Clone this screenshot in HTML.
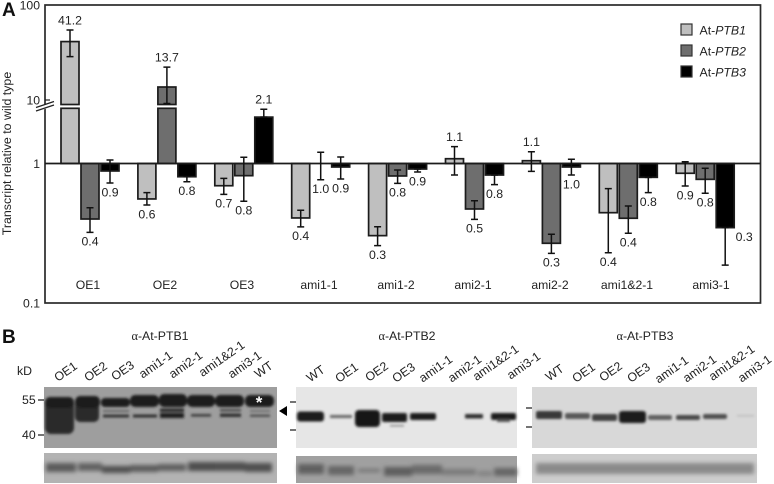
<!DOCTYPE html>
<html lang="en">
<head>
<meta charset="utf-8">
<title>PTB transcript levels and immunoblots</title>
<style>
html,body{margin:0;padding:0;background:#fff;}
svg{display:block;}
text{font-family:"Liberation Sans",sans-serif;fill:#222;}
</style>
</head>
<body>
<svg id="figure" width="774" height="484" viewBox="0 0 774 484" xmlns="http://www.w3.org/2000/svg">
  <defs>
    <filter id="b1" x="-20%" y="-50%" width="140%" height="200%"><feGaussianBlur stdDeviation="1.2"/></filter>
    <filter id="b2" x="-20%" y="-50%" width="140%" height="200%"><feGaussianBlur stdDeviation="2"/></filter>
  </defs>
  <text x="2" y="16" font-size="19" font-weight="bold" style="fill:#111">A</text>
  <g id="chart"></g>

  <g>
    <text x="2" y="343" font-size="19" font-weight="bold" style="fill:#111">B</text>
    <text x="17" y="375" font-size="12.3">kD</text>
    <text x="22" y="404" font-size="12.3">55</text>
    <text x="22" y="439" font-size="12.3">40</text>
    <path d="M38 400H44M38 435H44" stroke="#222" stroke-width="1.3"/>
    <path d="M290 402H296M290 430H296" stroke="#222" stroke-width="1.3"/>
    <path d="M526 408H532M526 427H532" stroke="#222" stroke-width="1.3"/>
    <path d="M279 411L287 406V416Z" fill="#000"/>

    <text x="160" y="340" font-size="12.3" text-anchor="middle"><tspan font-family="Liberation Serif">α</tspan>-At-PTB1</text>
    <text x="407" y="340" font-size="12.3" text-anchor="middle"><tspan font-family="Liberation Serif">α</tspan>-At-PTB2</text>
    <text x="645" y="340" font-size="12.3" text-anchor="middle"><tspan font-family="Liberation Serif">α</tspan>-At-PTB3</text>

    <g font-size="12.3" text-anchor="middle">
      <text transform="translate(68,375) rotate(-35)">OE1</text>
      <text transform="translate(98,375) rotate(-35)">OE2</text>
      <text transform="translate(125,374) rotate(-35)">OE3</text>
      <text transform="translate(158,368) rotate(-35)">ami1-1</text>
      <text transform="translate(188,368) rotate(-35)">ami2-1</text>
      <text transform="translate(224,362) rotate(-35)">ami1&amp;2-1</text>
      <text transform="translate(247,368) rotate(-35)">ami3-1</text>
      <text transform="translate(266,373) rotate(-35)">WT</text>
    </g>
    <g font-size="12.3" text-anchor="middle">
      <text transform="translate(318,377) rotate(-35)">WT</text>
      <text transform="translate(349,376) rotate(-35)">OE1</text>
      <text transform="translate(379,375) rotate(-35)">OE2</text>
      <text transform="translate(406,376) rotate(-35)">OE3</text>
      <text transform="translate(438,372) rotate(-35)">ami1-1</text>
      <text transform="translate(467,372) rotate(-35)">ami2-1</text>
      <text transform="translate(498,366) rotate(-35)">ami1&amp;2-1</text>
      <text transform="translate(526,369) rotate(-35)">ami3-1</text>
    </g>
    <g font-size="12.3" text-anchor="middle">
      <text transform="translate(557,376) rotate(-35)">WT</text>
      <text transform="translate(586,376) rotate(-35)">OE1</text>
      <text transform="translate(613,375) rotate(-35)">OE2</text>
      <text transform="translate(641,376) rotate(-35)">OE3</text>
      <text transform="translate(674,373) rotate(-35)">ami1-1</text>
      <text transform="translate(702,372) rotate(-35)">ami2-1</text>
      <text transform="translate(734,366) rotate(-35)">ami1&amp;2-1</text>
      <text transform="translate(757,372) rotate(-35)">ami3-1</text>
    </g>

    <!-- PTB1 blot -->
    <g>
      <rect x="44" y="387" width="233" height="61" fill="#9e9e9e"/>
      <g filter="url(#b1)" fill="#1c1c1c">
        <rect x="45" y="397" width="29" height="37" rx="6" fill="#2c2c2c"/>
        <rect x="75" y="396" width="24" height="26" rx="5" fill="#2c2c2c"/>
        <rect x="45" y="397" width="29" height="11" rx="5"/>
        <rect x="76" y="396" width="24" height="12" rx="5"/>
        <rect x="101" y="398" width="29" height="9" rx="4"/>
        <rect x="130" y="395" width="29" height="12" rx="5"/>
        <rect x="159" y="394" width="28" height="13" rx="5"/>
        <rect x="187" y="395" width="28" height="12" rx="5"/>
        <rect x="215" y="395" width="29" height="12" rx="5"/>
        <rect x="245" y="395" width="29" height="12" rx="5"/>
        <rect x="103" y="414.500" width="26" height="3" fill="#333"/>
        <rect x="103" y="410" width="26" height="2" fill="#666"/>
        <rect x="133" y="414.500" width="24" height="3" fill="#2e2e2e"/>
        <rect x="160" y="413" width="24" height="5" fill="#1c1c1c"/>
        <rect x="160" y="408.500" width="24" height="3.500" fill="#2c2c2c"/>
        <rect x="191" y="414" width="20" height="2.600" fill="#3e3e3e"/>
        <rect x="220" y="413.500" width="21" height="3.500" fill="#2e2e2e"/>
        <rect x="220" y="409" width="21" height="2.500" fill="#4e4e4e"/>
        <rect x="250" y="414.500" width="20" height="2.400" fill="#4e4e4e"/>
        <rect x="250" y="410" width="20" height="2" fill="#707070"/>
      </g>
      <text x="259" y="408" font-size="17" font-weight="bold" text-anchor="middle" style="fill:#fff">*</text>
    </g>
    <g>
      <rect x="44" y="453" width="233" height="30" fill="#b3b3b3"/>
      <g filter="url(#b2)">
        <rect x="46" y="463" width="30" height="9" fill="#5c5c5c"/>
        <rect x="78" y="463" width="24" height="8" fill="#626262"/>
        <rect x="102" y="466" width="28" height="7" fill="#505050"/>
        <rect x="130" y="465" width="28" height="7" fill="#5a5a5a"/>
        <rect x="158" y="464" width="28" height="7" fill="#5e5e5e"/>
        <rect x="188" y="462" width="27" height="9" fill="#4e4e4e"/>
        <rect x="215" y="462" width="30" height="9" fill="#505050"/>
        <rect x="245" y="463" width="27" height="9" fill="#505050"/>
      </g>
    </g>

    <!-- PTB2 blot -->
    <g>
      <rect x="296" y="387" width="221" height="61" fill="#e6e6e6"/>
      <g filter="url(#b1)" fill="#1f1f1f">
        <rect x="297" y="411.500" width="27" height="10" rx="3"/>
        <rect x="330" y="415" width="22" height="3" fill="#666"/>
        <rect x="355" y="410" width="25" height="17" rx="4" fill="#151515"/>
        <rect x="382" y="413" width="25" height="9" rx="2"/>
        <rect x="390" y="425" width="14" height="1.500" fill="#888"/>
        <rect x="410" y="413" width="26" height="7" rx="2"/>
        <rect x="465" y="414" width="18" height="4.500" rx="1" fill="#333"/>
        <rect x="491" y="413" width="25" height="7" rx="2"/>
        <rect x="497" y="419" width="13" height="3" fill="#555"/>
      </g>
    </g>
    <g>
      <rect x="296" y="456" width="221" height="27" fill="#a0a0a0"/>
      <g filter="url(#b2)">
        <rect x="298" y="464" width="26" height="10" fill="#606060"/>
        <rect x="328" y="466" width="26" height="9" fill="#666"/>
        <rect x="358" y="469" width="22" height="3" fill="#6e6e6e"/>
        <rect x="384" y="467" width="28" height="9" fill="#5e5e5e"/>
        <rect x="412" y="465" width="30" height="9" fill="#6a6a6a"/>
        <rect x="442" y="469" width="34" height="6" fill="#7a7a7a"/>
        <rect x="478" y="471" width="14" height="5" fill="#828282"/>
        <rect x="494" y="468" width="23" height="8" fill="#666"/>
      </g>
    </g>

    <!-- PTB3 blot -->
    <g>
      <rect x="532" y="387" width="225" height="61" fill="#d8d8d8"/>
      <g filter="url(#b1)" fill="#2a2a2a">
        <rect x="536" y="411" width="26" height="8" rx="2" fill="#383838"/>
        <rect x="565" y="413" width="25" height="6" rx="2" fill="#585858"/>
        <rect x="592" y="414" width="25" height="7" rx="2" fill="#404040"/>
        <rect x="619" y="411" width="27" height="12" rx="3" fill="#1c1c1c"/>
        <rect x="648" y="415" width="24" height="5" rx="2" fill="#606060"/>
        <rect x="676" y="415" width="24" height="5" rx="2" fill="#484848"/>
        <rect x="703" y="414" width="24" height="5" rx="2" fill="#505050"/>
        <rect x="737" y="415" width="17" height="1.500" fill="#bbb"/>
      </g>
    </g>
    <g>
      <rect x="532" y="454" width="225" height="29" fill="#cdcdcd"/>
      <g filter="url(#b2)">
        <rect x="536" y="463" width="218" height="11" fill="#8a8a8a"/>
      </g>
    </g>
  </g>
</svg>

<script>
// Chart data
const categories = ["OE1", "OE2", "OE3", "ami1-1", "ami1-2", "ami2-1", "ami2-2", "ami1&2-1", "ami3-1"];
const seriesNames = ["PTB1", "PTB2", "PTB3"];

const ptb1Values = [41.2, 0.557, 0.693, 0.407, 0.304, 1.082, 1.047, 0.444, 0.851];
const ptb2Values = [0.400, 13.7, 0.818, 1.0, 0.814, 0.472, 0.268, 0.405, 0.770];
const ptb3Values = [0.884, 0.804, 2.15, 0.944, 0.913, 0.827, 0.944, 0.796, 0.347];

const ptb1ErrHigh = [54.6, 0.618, 0.783, 0.462, 0.352, 1.32, 1.215, 0.660, 1.03];
const ptb1ErrLow = [28.6, 0.504, 0.601, 0.351, 0.258, 0.827, 0.879, 0.229, 0.690];
const ptb2ErrHigh = [0.482, 22.2, 1.108, 1.203, 0.898, 0.541, 0.311, 0.496, 0.924];
const ptb2ErrLow = [0.321, 9.2, 0.536, 0.765, 0.721, 0.398, 0.227, 0.316, 0.612];
const ptb3ErrHigh = [1.06, 0.804, 2.45, 1.113, 0.913, 0.827, 1.072, 0.796, 0.347];
const ptb3ErrLow = [0.725, 0.740, 2.15, 0.774, 0.869, 0.705, 0.827, 0.618, 0.187];

const ptb1Labels = ["41.2", "0.6", "0.7", "0.4", "0.3", "1.1", "1.1", "0.4", "0.9"];
const ptb2Labels = ["0.4", "13.7", "0.8", "1.0", "0.8", "0.5", "0.3", "0.4", "0.8"];
const ptb3Labels = ["0.9", "0.8", "2.1", "0.9", "0.9", "0.8", "1.0", "0.8", "0.3"];

const yTickValues = [100, 10, 1, 0.1];
const yTickLabels = ["100", "10", "1", "0.1"];

const NS = "http://www.w3.org/2000/svg";
const chart = document.getElementById("chart");
const values = [ptb1Values, ptb2Values, ptb3Values];
const errHigh = [ptb1ErrHigh, ptb2ErrHigh, ptb3ErrHigh];
const errLow = [ptb1ErrLow, ptb2ErrLow, ptb3ErrLow];
const labels = [ptb1Labels, ptb2Labels, ptb3Labels];
const fills = ["#bfbfbf", "#6e6e6e", "#000000"];

// Broken log axis
const BREAK_VALUE = 3;
const BASE_Y = 163.5;
const GAP_TOP = 104.5;
const GAP_BOTTOM = 108.3;
function yScale(v) {
  if (v >= BREAK_VALUE) return 100 - 95 * Math.log10(v / 10);
  return BASE_Y - 139.5 * Math.log10(v);
}
function groupX(i) { return 61 + 76.9 * i; }
function barX(i, s) { return groupX(i) + 20 * s; }
function categoryX(i) { return 88 + 77 * i + (i === 8 ? 7 : 0); }

function make(tag, attrs, parent) {
  const el = document.createElementNS(NS, tag);
  for (const k in attrs) el.setAttribute(k, attrs[k]);
  (parent || chart).appendChild(el);
  return el;
}

// Frame
const frame = make("rect", {x: 45, y: 5, width: 715.5, height: 298, fill: "none", stroke: "#2a2a2a", "stroke-width": 1.7});



// Bars
values.forEach(function (arr, s) {
  arr.forEach(function (v, i) {
    const x = barX(i, s);
    const w = 18;
    const stroke = "#1c1c1c";
    if (v >= BREAK_VALUE) {
      const lower = make("rect", {x: x, y: GAP_BOTTOM, width: w, height: BASE_Y - GAP_BOTTOM, fill: fills[s], stroke: stroke, "stroke-width": 1.7});
      
      
      const upper = make("rect", {x: x, y: yScale(v), width: w, height: GAP_TOP - yScale(v), fill: fills[s], stroke: stroke, "stroke-width": 1.7});
      
      
    } else {
      const y = yScale(v);
      const bar = make("rect", {x: x, y: Math.min(y, BASE_Y), width: w, height: Math.abs(y - BASE_Y), fill: fills[s], stroke: stroke, "stroke-width": 1.7});
      
      
      bar.setAttribute('data-series', seriesNames[s]);
    }
  });
});

// Baseline at 1
const baseline = make("line", {x1: 45, x2: 760.5, y1: BASE_Y, y2: BASE_Y, stroke: "#1c1c1c", "stroke-width": 1.8});



// Error bars and value labels
values.forEach(function (arr, s) {
  arr.forEach(function (v, i) {
    const cx = barX(i, s) + 9;
    const yHigh = yScale(errHigh[s][i]);
    const yLow = yScale(errLow[s][i]);
    const d = "M" + cx + " " + yHigh + "V" + yLow +
      "M" + (cx - 3.5) + " " + yHigh + "H" + (cx + 3.5) +
      "M" + (cx - 3.5) + " " + yLow + "H" + (cx + 3.5);
    const err = make("path", {d: d, fill: "none", stroke: "#111", "stroke-width": 1.5});
    
    

    let lx = cx;
    let ly = v >= 1.04 ? yHigh - 10 : yLow + 9;
    if (i === 8 && s === 2) { lx = cx + 19; ly = yScale(v) + 9; }
    const t = make("text", {x: lx, y: ly + 4.3, "font-size": 12.3, "text-anchor": "middle"});
    t.textContent = labels[s][i];
    
    
  });
});

// Category labels
categories.forEach(function (c, i) {
  const t = make("text", {x: categoryX(i), y: 289, "font-size": 12.2, "text-anchor": "middle"});
  t.textContent = c;
  
  
});

// Y axis ticks
yTickValues.forEach(function (v, i) {
  const y = v === 100 ? 5 : (v === 0.1 ? 303 : yScale(v));
  const t = make("text", {x: 40, y: y + 4.5, "font-size": 12.2, "text-anchor": "end"});
  t.textContent = yTickLabels[i];
  
  
  if (v === 10) {
    const tick = make("line", {x1: 45, x2: 50, y1: y, y2: y, stroke: "#222", "stroke-width": 1.2});
    
    
  }
});

// Axis break marks
const breakFill = make("path", {d: "M36 107.500L54 101.500V106L36 112Z", fill: "#fff"});


const breakLines = make("path", {d: "M36 107.500L54 101.500M36 111L54 105", fill: "none", stroke: "#222", "stroke-width": 1.2});



// Y axis title
const yTitle = make("text", {transform: "translate(11,153.500) rotate(-90)", "font-size": 12.4, "text-anchor": "middle"});
yTitle.textContent = "Transcript relative to wild type";



// Legend
seriesNames.forEach(function (name, s) {
  const sw = make("rect", {x: 681, y: 24 + 21 * s, width: 11, height: 11, fill: fills[s], stroke: "#333", "stroke-width": 1.2});
  
  
  const t = make("text", {x: 699.500, y: 34.3 + 21 * s, "font-size": 12.3});
  
  
  const a = make("tspan", {}, t);
  a.textContent = "At-";
  const b = make("tspan", {"font-style": "italic"}, t);
  b.textContent = name;
});
</script>
</body>
</html>
